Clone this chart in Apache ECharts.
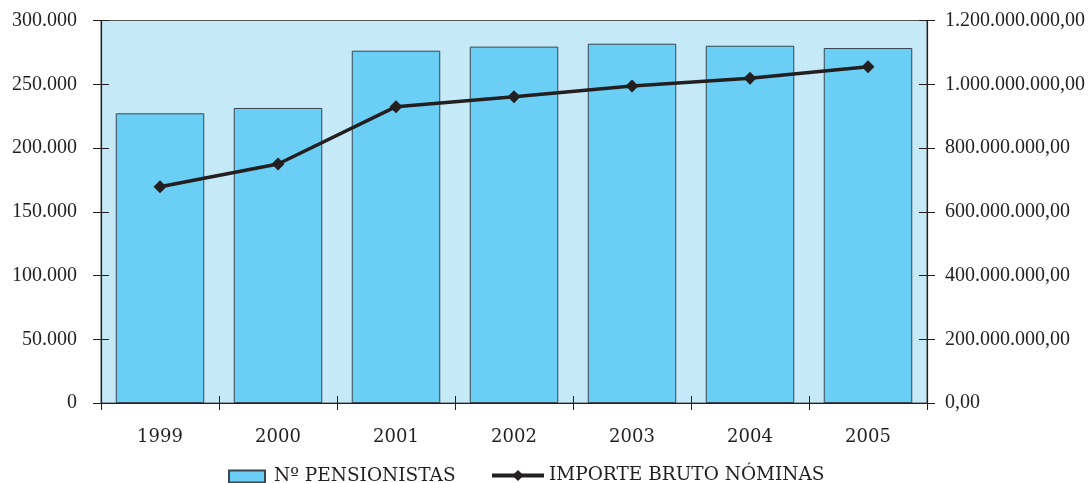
<!DOCTYPE html>
<html>
<head>
<meta charset="utf-8">
<script src="https://cdn.jsdelivr.net/npm/echarts@6/dist/echarts.min.js"></script>
<style>html,body{margin:0;padding:0;background:#fff}#c{width:1089px;height:483px}</style>
</head>
<body>
<div id="c"></div>
<script>
var years = ['1999','2000','2001','2002','2003','2004','2005'];
var pensionistas = [227200, 231400, 276300, 279500, 281800, 280200, 278400];
var importe = [678600000, 749800000, 929600000, 961000000, 994500000, 1018600000, 1055000000];
var leftTicks = [0, 50000, 100000, 150000, 200000, 250000, 300000];
var rightTicks = [0, 200000000, 400000000, 600000000, 800000000, 1000000000, 1200000000];

function fmtThousands(v) {
  return String(Math.round(v)).replace(/\B(?=(\d{3})+(?!\d))/g, '.');
}
var FONT = 'Liberation Serif';
var FONT2 = 'DejaVu Serif';
var TXT = '#231F20';
var chart = echarts.init(document.getElementById('c'));
var axisLine = {show: true, lineStyle: {color: '#231F20', width: 1.2}};
chart.setOption({
  animation: false,
  grid: {left: 101, right: 162, top: 20.5, bottom: 80, show: true, backgroundColor: '#C6E9F8', borderColor: '#555', borderWidth: 1},
  legend: [{
    data: [{name: 'Nº PENSIONISTAS', icon: 'rect'}], left: 228, top: 467, padding: 0, itemWidth: 36, itemHeight: 12,
    textStyle: {fontFamily: FONT2, fontSize: 18.5, color: TXT, padding: [0, 0, 0, 4]}
  }, {
    data: ['IMPORTE BRUTO NÓMINAS'], left: 490, top: 466, padding: 0, itemWidth: 52, itemHeight: 14,
    lineStyle: {width: 4},
    textStyle: {fontFamily: FONT2, fontSize: 18.5, color: TXT}
  }],
  xAxis: [{
    type: 'category', data: years, boundaryGap: true,
    axisLine: axisLine,
    axisTick: {show: true, length: 7, lineStyle: {color: '#231F20'}},
    axisLabel: {fontFamily: FONT2, fontSize: 18, color: TXT, margin: 25}
  }, {
    type: 'category', data: years, boundaryGap: true, position: 'bottom',
    axisLine: {show: false},
    axisTick: {show: true, inside: true, length: 7, lineStyle: {color: '#231F20'}},
    axisLabel: {show: false}
  }],
  yAxis: [{
    type: 'value', min: 0, max: 300000, interval: 50000, position: 'left',
    axisLine: axisLine, splitLine: {show: false},
    axisTick: {show: true, length: 8, lineStyle: {color: '#231F20'}},
    axisLabel: {fontFamily: FONT, fontSize: 20, color: TXT, margin: 24,
      formatter: function (v) { return leftTicks.indexOf(v) >= 0 ? fmtThousands(v) : ''; }}
  }, {
    type: 'value', min: 0, max: 1200000000, interval: 200000000, position: 'right',
    axisLine: axisLine, splitLine: {show: false},
    axisTick: {show: true, length: 8, lineStyle: {color: '#231F20'}},
    axisLabel: {fontFamily: FONT, fontSize: 20, color: TXT, margin: 18,
      formatter: function (v) { return rightTicks.indexOf(v) >= 0 ? fmtThousands(v) + ',00' : ''; }}
  }, {
    type: 'value', min: 0, max: 300000, interval: 50000, position: 'left',
    axisLine: {show: false}, splitLine: {show: false}, axisLabel: {show: false},
    axisTick: {show: true, inside: true, length: 8, lineStyle: {color: '#231F20'}}
  }, {
    type: 'value', min: 0, max: 1200000000, interval: 200000000, position: 'right',
    axisLine: {show: false}, splitLine: {show: false}, axisLabel: {show: false},
    axisTick: {show: true, inside: true, length: 8, lineStyle: {color: '#231F20'}}
  }],
  series: [{
    name: 'Nº PENSIONISTAS', type: 'bar', data: pensionistas, yAxisIndex: 0, xAxisIndex: 0,
    barCategoryGap: '25%',
    itemStyle: {color: '#6BCEF5', borderColor: '#3A4650', borderWidth: 1}
  }, {
    name: 'IMPORTE BRUTO NÓMINAS', type: 'line', data: importe, yAxisIndex: 1, xAxisIndex: 0,
    symbol: 'diamond', symbolSize: 13,
    lineStyle: {color: '#231F20', width: 3.5},
    itemStyle: {color: '#231F20'}
  }]
});
</script>
</body>
</html>
